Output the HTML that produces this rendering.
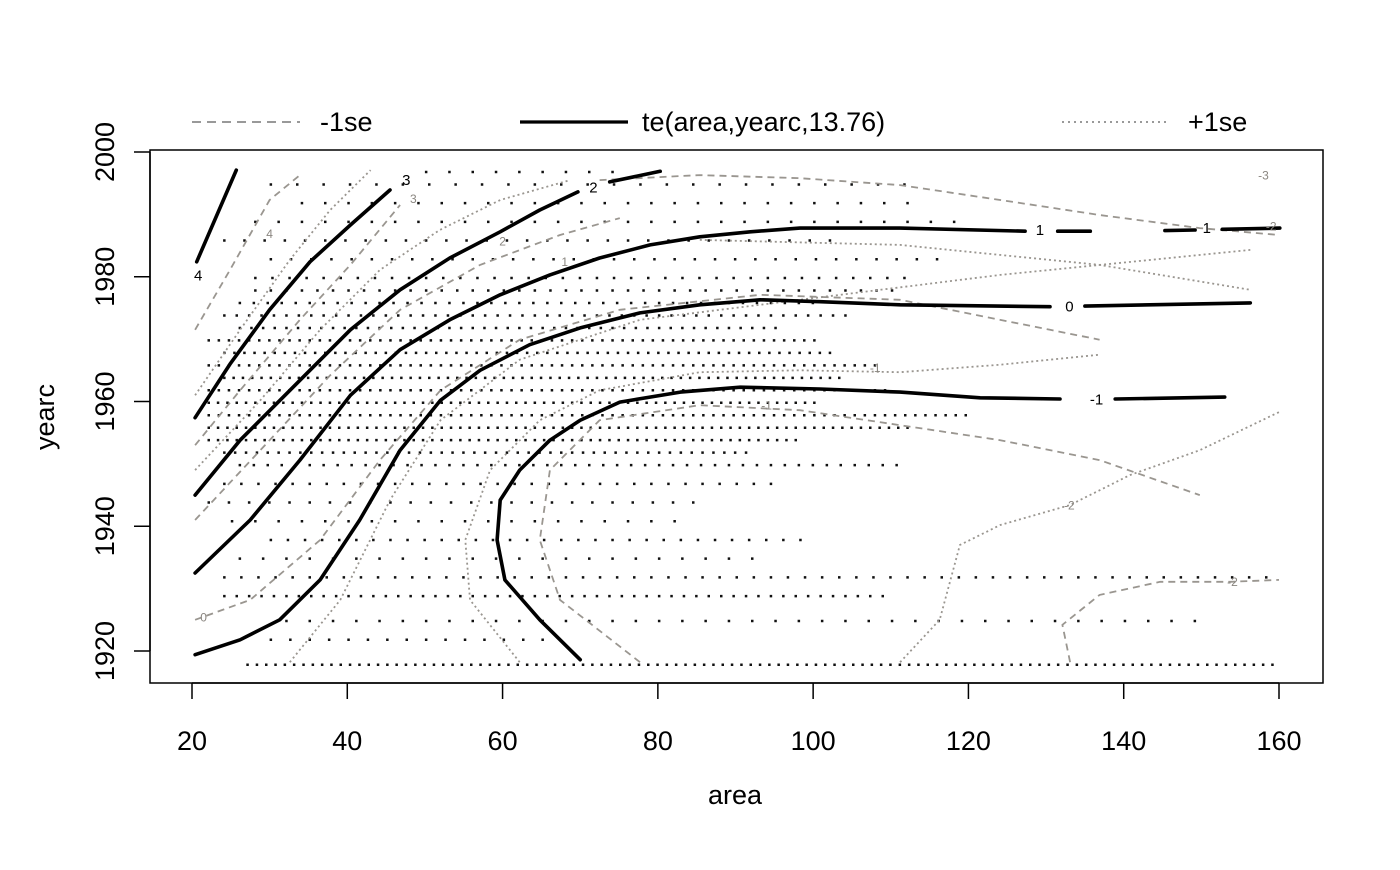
<!DOCTYPE html>
<html><head><meta charset="utf-8">
<style>
html,body{margin:0;padding:0;background:#fff;}
svg{display:block;font-family:"Liberation Sans",Arial,sans-serif;}
</style></head>
<body>
<svg id="chart" width="1400" height="870" viewBox="0 0 1400 870">
  <g id="dots"></g>
  <g id="gray"></g>
  <g id="main"></g>
  <g id="labels"></g>
  <rect x="150" y="150" width="1173" height="533" fill="none" stroke="#000" stroke-width="1.5"/>
  <g id="axes"></g>
  <g>
    <line x1="192" y1="122" x2="300" y2="122" stroke="#999" stroke-width="2" stroke-dasharray="9,6"/>
    <text x="320" y="131" font-size="27">-1se</text>
    <line x1="520" y1="122" x2="628" y2="122" stroke="#000" stroke-width="3.2"/>
    <text x="642" y="131" font-size="27">te(area,yearc,13.76)</text>
    <line x1="1062" y1="122" x2="1168" y2="122" stroke="#999" stroke-width="2" stroke-dasharray="2,4"/>
    <text x="1188" y="131" font-size="27">+1se</text>
  </g>
  <text x="735" y="804" font-size="27" text-anchor="middle">area</text>
  <text x="0" y="0" font-size="27" text-anchor="middle" transform="translate(54,417) rotate(-90)">yearc</text>
</svg>
<script>
const xTicks=[20,40,60,80,100,120,140,160];
const yTicks=[1920,1940,1960,1980,2000];

const c4A=[20.6,25.7], c4Y=[1982.4,1997.1];
const c3A=[20.4,24.9,30.0,35.2,40.4,45.5], c3Y=[1957.4,1966.0,1974.7,1982.4,1988.3,1993.9];
const c2A=[20.4,26.2,33.9,40.4,46.8,53.2,59.7,64.8,69.7], c2Y=[1945.0,1953.8,1963.4,1971.5,1977.9,1983.0,1987.2,1990.7,1993.6];
const c2bA=[73.8,80.3], c2bY=[1995.2,1996.9];
const c1A=[20.4,27.5,33.9,40.4,46.8,53.2,59.7,66.1,72.5,79.0,85.4,91.9,98.3,111.2,127.3], c1Y=[1932.5,1941.0,1950.6,1961.0,1968.3,1973.1,1977.1,1980.3,1983.0,1985.1,1986.4,1987.2,1987.8,1987.8,1987.3];
const c1bA=[131.5,135.7], c1bY=[1987.3,1987.3];
const c1cA=[145.3,149.2], c1cY=[1987.4,1987.5];
const c1dA=[152.7,160.1], c1dY=[1987.6,1987.8];
const c0A=[20.4,26.2,31.3,36.5,41.6,46.8,52.0,57.1,63.5,70.0,77.7,85.4,93.2,100.9,111.2,130.5], c0Y=[1919.4,1921.8,1925.0,1931.4,1941.0,1952.2,1960.2,1965.0,1969.1,1971.8,1974.2,1975.5,1976.3,1976.0,1975.5,1975.2];
const c0bA=[135.0,156.3], c0bY=[1975.3,1975.8];
const cm1A=[70.0,64.8,60.3,59.3,59.7,62.2,66.1,70.0,75.1,82.9,90.6,100.9,111.2,121.5,131.8], cm1Y=[1918.6,1925.0,1931.4,1937.8,1944.2,1949.0,1953.8,1957.0,1959.9,1961.5,1962.3,1962.0,1961.5,1960.6,1960.4];
const cm1bA=[138.9,153.0], cm1bY=[1960.4,1960.7];

const gDashTopA=[72.5,85.4,98.3,111.2,124.1,136.9,149.8,160], gDashTopY=[1995.5,1996.3,1995.8,1994.7,1992.3,1989.9,1987.8,1986.7];
const gDotTopA=[85.4,111.2,136.9,156.3], gDotTopY=[1985.9,1985.1,1981.9,1977.9];
const gDotM2A=[111.2,116.3,118.9,124.1,133.1,140.8,149.8,160], gDotM2Y=[1918.2,1925.0,1937.0,1940.2,1943.4,1948.2,1952.2,1958.3];
const gDashM2A=[133.1,132.1,136.9,144.7,153.7,160], gDashM2Y=[1918.2,1924.2,1929.0,1931.1,1931.1,1931.4];
const gDotM1A=[62.2,55.8,55.2,58.4,64.8,72.5,85.4,98.3,111.2,124.1,136.9], gDotM1Y=[1918.2,1928.2,1937.8,1949.0,1957.0,1961.8,1964.7,1965.0,1964.7,1965.9,1967.5];
const gDashM1A=[77.7,67.4,64.8,66.1,72.5,85.4,98.3,111.2,124.1,136.9,149.8], gDashM1Y=[1918.2,1928.2,1937.8,1949.0,1957.0,1959.4,1958.6,1956.2,1953.8,1950.6,1945.0];
const gDash0A=[20.4,27.5,36.5,44.2,52.0,62.2,75.1,93.2,111.2,130.5,136.9], gDash0Y=[1925.0,1928.2,1937.8,1950.6,1961.8,1969.9,1974.7,1977.1,1976.3,1971.5,1969.9];
const gDot0A=[32.6,39.1,45.5,52.0,62.2,77.7,98.3,124.1,156.3], gDot0Y=[1918.2,1928.2,1944.2,1957.0,1966.7,1973.1,1976.3,1980.3,1984.3];
const gDash2A=[20.4,28.8,37.8,46.8,57.1,67.4,75.1], gDash2Y=[1941.0,1952.2,1964.2,1974.7,1981.9,1986.7,1989.4];
const gDot2A=[20.4,28.8,36.5,44.2,51.9,59.7,68.7], gDot2Y=[1949.0,1960.2,1971.5,1981.1,1987.5,1992.3,1995.5];
const gDash3A=[20.4,26.2,33.9,40.4,46.8], gDash3Y=[1953.0,1961.8,1973.1,1981.9,1991.5];
const gDot3A=[20.4,26.2,32.6,37.8,43.0], gDot3Y=[1961.0,1971.5,1982.7,1990.7,1997.1];
const gDash4A=[20.4,24.9,30.0,33.9], gDash4Y=[1971.5,1981.1,1992.3,1996.3];

const labText=["4","3","2","1","1","0","-1","3","2","1","0","-1","-1","-2","-2","-3","-2","4"];
const labA=[20.8,47.6,71.7,129.2,150.7,133.0,136.5,48.5,60,68,21.5,108,94,133,154,158,159,30];
const labY=[1980.2,1995.5,1994.3,1987.5,1987.8,1975.2,1960.3,1992.6,1985.8,1982.5,1925.5,1965.5,1959.5,1943.5,1931.2,1996.4,1988.2,1987];
const labGray=[0,0,0,0,0,0,0,1,1,1,1,1,1,1,1,1,1,1];

const rowYear=[1918,1922,1925,1929,1932,1935,1938,1941,1944,1947,1950,1952,1954,1956,1958,1960,1962,1964,1966,1968,1970,1972,1974,1976,1978,1980,1983,1986,1989,1992,1995,1997];
const rowStart=[27,30,32,24,24,26,30,25,22,24,26,24,22,22,22,22,22,24,22,24,22,26,24,26,28,28,30,24,28,34,30,50];
const rowEnd=[160,66,150,110,160,92,100,82,86,95,112,92,98,112,120,100,110,104,108,102,100,96,104,100,110,112,116,104,118,112,112,74];
const rowStep=[1.2,2.5,3,1.6,2.2,3,2.2,3,2.6,2.2,1.8,1.4,1.2,1.2,1.3,1.2,1.3,1.2,1.3,1.3,1.3,1.5,1.6,1.8,2,2.2,2.6,2.6,3,3,3.4,3];

const NS='http://www.w3.org/2000/svg';
const X=a=>192+(a-20)*(1087/140);
const Y=y=>651-(y-1920)*(499/80);
function mk(tag,attrs,parent){const e=document.createElementNS(NS,tag);for(const k in attrs)e.setAttribute(k,attrs[k]);parent.appendChild(e);return e;}
function pts(A,Yv){return A.map((a,i)=>X(a).toFixed(1)+','+Y(Yv[i]).toFixed(1)).join(' ');}

const gDots=document.getElementById('dots');
let d='';
rowYear.forEach((yr,i)=>{for(let a=rowStart[i];a<=rowEnd[i]+1e-6;a+=rowStep[i]){d+='M'+X(a).toFixed(1)+' '+Y(yr).toFixed(1)+'h2.5v2.5h-2.5z';}});
const dp=mk('path',{d:d,fill:'#111'},gDots);



const gGray=document.getElementById('gray');
const dashed=[[gDashTopA,gDashTopY],[gDashM2A,gDashM2Y],[gDashM1A,gDashM1Y],[gDash0A,gDash0Y],[gDash2A,gDash2Y],[gDash3A,gDash3Y],[gDash4A,gDash4Y]];
const dotted=[[gDotTopA,gDotTopY],[gDotM2A,gDotM2Y],[gDotM1A,gDotM1Y],[gDot0A,gDot0Y],[gDot2A,gDot2Y],[gDot3A,gDot3Y]];
dashed.forEach(s=>{const e=mk('polyline',{points:pts(s[0],s[1]),fill:'none',stroke:'#9a9690','stroke-width':1.8,'stroke-dasharray':'7,5'},gGray);

});
dotted.forEach(s=>{const e=mk('polyline',{points:pts(s[0],s[1]),fill:'none',stroke:'#9a9690','stroke-width':1.8,'stroke-dasharray':'2,3'},gGray);

});

const gMain=document.getElementById('main');
const mains=[[c4A,c4Y],[c3A,c3Y],[c2A,c2Y],[c2bA,c2bY],[c1A,c1Y],[c1bA,c1bY],[c1cA,c1cY],[c1dA,c1dY],[c0A,c0Y],[c0bA,c0bY],[cm1A,cm1Y],[cm1bA,cm1bY]];
mains.forEach(s=>{const e=mk('polyline',{points:pts(s[0],s[1]),fill:'none',stroke:'#000','stroke-width':3.6,'stroke-linejoin':'round','stroke-linecap':'round'},gMain);

});

const gLab=document.getElementById('labels');
labText.forEach((t,i)=>{const e=mk('text',{x:X(labA[i]),y:Y(labY[i])+5,'font-size':labGray[i]?12:15,'text-anchor':'middle',fill:labGray[i]?'#8a8680':'#000'},gLab);
e.textContent=t;

});

const gAx=document.getElementById('axes');
const xl=mk('line',{x1:X(xTicks[0]),x2:X(xTicks[xTicks.length-1]),y1:683,y2:683,stroke:'#000','stroke-width':1.5},gAx);


xTicks.forEach(v=>{const l=mk('line',{x1:X(v),x2:X(v),y1:683,y2:699,stroke:'#000','stroke-width':1.5},gAx);


const t=mk('text',{x:X(v),y:750,'font-size':27,'text-anchor':'middle'},gAx);t.textContent=v;

});
const yl=mk('line',{x1:150,x2:150,y1:Y(yTicks[0]),y2:Y(yTicks[yTicks.length-1]),stroke:'#000','stroke-width':1.5},gAx);


yTicks.forEach(v=>{const l=mk('line',{x1:134,x2:150,y1:Y(v),y2:Y(v),stroke:'#000','stroke-width':1.5},gAx);


const t=mk('text',{x:0,y:0,'font-size':27,'text-anchor':'middle',transform:'translate(114,'+Y(v)+') rotate(-90)'},gAx);t.textContent=v;

});
</script>
</body></html>
